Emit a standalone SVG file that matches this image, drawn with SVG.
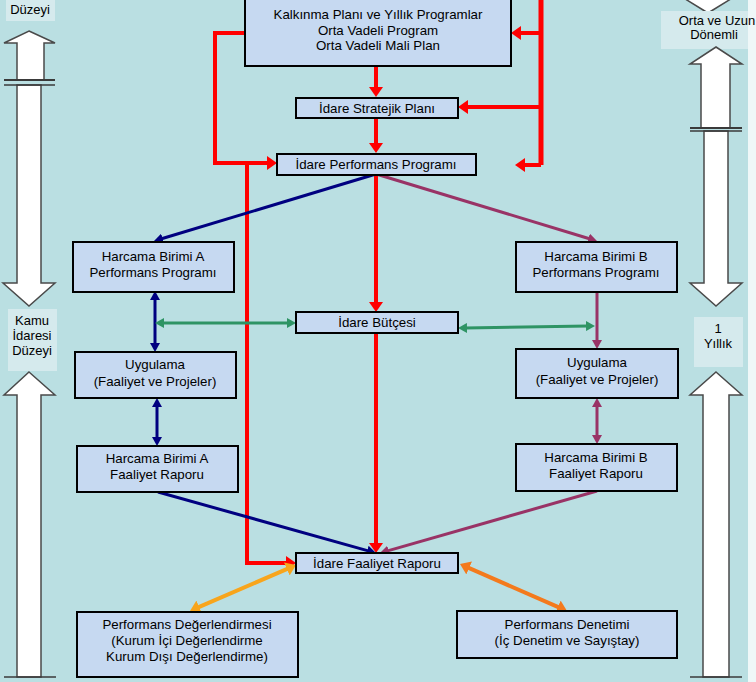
<svg xmlns="http://www.w3.org/2000/svg" width="756" height="682" viewBox="0 0 756 682">
<style>
.box{fill:#c6d9f1;stroke:#000;stroke-width:2}
.t{font-family:"Liberation Sans",Arial,sans-serif;font-size:13.3px;fill:#000;text-anchor:middle}
.s{font-size:13px}
.lbl{fill:#d5eaed}
.big{fill:#fff;stroke:#4a4a4a;stroke-width:1.5}
.base{stroke:#3a3a3a;stroke-width:2}
.red{fill:none;stroke:#ff0000;stroke-width:4}
.navy{fill:none;stroke:#000080;stroke-width:3}
.purp{fill:none;stroke:#993366;stroke-width:3}
.green{fill:none;stroke:#2e9464;stroke-width:3}
.or1{fill:none;stroke:#f8a51c;stroke-width:4}
.or2{fill:none;stroke:#f47a1c;stroke-width:4}
</style>
<defs>
<marker id="mr" markerUnits="userSpaceOnUse" markerWidth="12" markerHeight="14" refX="3" refY="7" orient="auto-start-reverse" viewBox="0 0 12 14"><path d="M0,0 L10,7 L0,14 z" fill="#ff0000"/></marker>
<marker id="mn" markerUnits="userSpaceOnUse" markerWidth="10" markerHeight="10" refX="2" refY="5" orient="auto-start-reverse" viewBox="0 0 10 10"><path d="M0,0 L9,5 L0,10 z" fill="#000080"/></marker>
<marker id="mp" markerUnits="userSpaceOnUse" markerWidth="10" markerHeight="10" refX="2" refY="5" orient="auto-start-reverse" viewBox="0 0 10 10"><path d="M0,0 L9,5 L0,10 z" fill="#993366"/></marker>
<marker id="mg" markerUnits="userSpaceOnUse" markerWidth="10" markerHeight="10" refX="2" refY="5" orient="auto-start-reverse" viewBox="0 0 10 10"><path d="M0,0 L9,5 L0,10 z" fill="#2e9464"/></marker>
<marker id="mo1" markerUnits="userSpaceOnUse" markerWidth="12" markerHeight="14" refX="3" refY="7" orient="auto-start-reverse" viewBox="0 0 12 14"><path d="M0,0 L10,7 L0,14 z" fill="#f8a51c"/></marker>
<marker id="mo2" markerUnits="userSpaceOnUse" markerWidth="12" markerHeight="14" refX="3" refY="7" orient="auto-start-reverse" viewBox="0 0 12 14"><path d="M0,0 L10,7 L0,14 z" fill="#f47a1c"/></marker>
</defs>
<rect x="0" y="0" width="756" height="682" fill="#eff7f8"/>
<rect x="0" y="0" width="748" height="682" fill="#badfe2"/>

<g id="side-left">
<rect class="lbl" x="6" y="0" width="49" height="21"/>
<text class="t s" x="30" y="14">Düzeyi</text>
<path class="big" d="M29,31 L55,43 H44 V80 H17 V43 H4 Z"/>
<line class="base" x1="4" y1="80" x2="55" y2="80"/>
<path class="big" d="M17,85 H41 V283 H55 L29,306 L3,283 H17 Z"/>
<line class="base" x1="4" y1="85" x2="55" y2="85" style="stroke-width:1.5"/>
<rect class="lbl" x="8" y="309" width="49" height="62"/>
<text class="t s" x="32" y="325">Kamu</text>
<text class="t s" x="32" y="340">İdaresi</text>
<text class="t s" x="32" y="355">Düzeyi</text>
<path class="big" d="M29,372 L55,395 H41 V677 H17 V395 H4 Z"/>
<line class="base" x1="4" y1="677" x2="56" y2="677" style="stroke-width:1.5"/>
</g>

<g id="side-right">
<path class="big" d="M682,-3 H734 L708,13 Z"/>
<rect class="lbl" x="661" y="11" width="87" height="38"/>
<text class="t s" x="717" y="25">Orta ve Uzun</text>
<text class="t s" x="714" y="39">Dönemli</text>
<path class="big" d="M716,47 L742,64 H730 V128 H701 V64 H690 Z"/>
<line class="base" x1="690" y1="128" x2="742" y2="128"/>
<path class="big" d="M704,131 H728 V283 H742 L716,306 L690,283 H704 Z"/>
<line class="base" x1="690" y1="131" x2="742" y2="131" style="stroke-width:1.5"/>
<rect class="lbl" x="694" y="317" width="49" height="50"/>
<text class="t s" x="718" y="333">1</text>
<text class="t s" x="718" y="348">Yıllık</text>
<path class="big" d="M716,372 L742,395 H729 V677 H703 V395 H690 Z"/>
<line class="base" x1="690" y1="677" x2="742" y2="677" style="stroke-width:1.5"/>
</g>

<g id="connectors">
<path class="red" d="M376,66 V90" marker-end="url(#mr)"/>
<path class="red" d="M376,117 V146" marker-end="url(#mr)"/>
<path class="red" d="M245,33 H215 V163 H270" marker-end="url(#mr)"/>
<path class="red" d="M247,163 V563 H289" marker-end="url(#mr)"/>
<path class="red" d="M541,0 V165" style="stroke-width:5"/>
<path class="red" d="M541,33 H518" marker-end="url(#mr)"/>
<path class="red" d="M541,107 H465" marker-end="url(#mr)"/>
<path class="red" d="M541,165 H522" marker-end="url(#mr)"/>
<path class="red" d="M376,174 V305" marker-end="url(#mr)"/>
<path class="red" d="M376,333 V546" marker-end="url(#mr)"/>
<path class="navy" d="M376,174 L160.7,239" marker-end="url(#mn)"/>
<path class="navy" d="M155,298 V345" marker-start="url(#mn)" marker-end="url(#mn)"/>
<path class="navy" d="M157,405 V439" marker-start="url(#mn)" marker-end="url(#mn)"/>
<path class="navy" d="M158,492 L369.2,551.1" marker-end="url(#mn)"/>
<path class="purp" d="M376,174 L590.3,239" marker-end="url(#mp)"/>
<path class="purp" d="M597,292 V342" marker-end="url(#mp)"/>
<path class="purp" d="M597,405 V437" marker-start="url(#mp)" marker-end="url(#mp)"/>
<path class="purp" d="M597,491 L386.7,551.1" marker-end="url(#mp)"/>
<path class="green" d="M162,323 H289" marker-start="url(#mg)" marker-end="url(#mg)"/>
<path class="green" d="M465,328 L588,326" marker-start="url(#mg)" marker-end="url(#mg)"/>
<path class="or1" d="M196.4,608.2 L289.6,567.8" marker-start="url(#mo1)" marker-end="url(#mo1)"/>
<path class="or2" d="M466.4,566.8 L560.6,608.2" marker-start="url(#mo2)" marker-end="url(#mo2)"/>
</g>

<g id="n-kalkinma">
<rect class="box" x="245" y="-2" width="266" height="68"/>
<text class="t" x="378" y="19">Kalkınma Planı ve Yıllık Programlar</text>
<text class="t" x="378" y="35">Orta Vadeli Program</text>
<text class="t" x="378" y="50">Orta Vadeli Mali Plan</text>
</g>
<g id="n-stratejik">
<rect class="box" x="296" y="98" width="162" height="20"/>
<text class="t" x="377" y="112.5">İdare Stratejik Planı</text>
</g>
<g id="n-performans">
<rect class="box" x="277" y="154" width="199" height="21"/>
<text class="t" x="376" y="169">İdare Performans Programı</text>
</g>
<g id="n-hb-a-pp">
<rect class="box" x="73" y="242" width="161" height="50"/>
<text class="t" x="153" y="261">Harcama Birimi A</text>
<text class="t" x="153" y="277">Performans Programı</text>
</g>
<g id="n-uyg-a">
<rect class="box" x="75" y="352" width="161" height="46"/>
<text class="t" x="155" y="369">Uygulama</text>
<text class="t" x="155" y="386">(Faaliyet ve Projeler)</text>
</g>
<g id="n-hb-a-fr">
<rect class="box" x="77" y="446" width="161" height="46"/>
<text class="t" x="157" y="463">Harcama Birimi A</text>
<text class="t" x="157" y="479">Faaliyet Raporu</text>
</g>
<g id="n-butce">
<rect class="box" x="296" y="312" width="162" height="21"/>
<text class="t" x="377" y="327">İdare Bütçesi</text>
</g>
<g id="n-hb-b-pp">
<rect class="box" x="516" y="242" width="161" height="50"/>
<text class="t" x="596" y="261">Harcama Birimi B</text>
<text class="t" x="596" y="277">Performans Programı</text>
</g>
<g id="n-uyg-b">
<rect class="box" x="516" y="349" width="162" height="49"/>
<text class="t" x="597" y="367">Uygulama</text>
<text class="t" x="597" y="384">(Faaliyet ve Projeler)</text>
</g>
<g id="n-hb-b-fr">
<rect class="box" x="516" y="444" width="161" height="47"/>
<text class="t" x="596" y="462">Harcama Birimi B</text>
<text class="t" x="596" y="478">Faaliyet Raporu</text>
</g>
<g id="n-faaliyet">
<rect class="box" x="296" y="553" width="162" height="20"/>
<text class="t" x="377" y="567.5">İdare Faaliyet Raporu</text>
</g>
<g id="n-degerlendirme">
<rect class="box" x="77" y="612" width="221" height="65"/>
<text class="t" x="187" y="629">Performans Değerlendirmesi</text>
<text class="t" x="187" y="645">(Kurum İçi Değerlendirme</text>
<text class="t" x="187" y="661">Kurum Dışı Değerlendirme)</text>
</g>
<g id="n-denetim">
<rect class="box" x="457" y="611" width="220" height="47"/>
<text class="t" x="567" y="629">Performans Denetimi</text>
<text class="t" x="567" y="645">(İç Denetim ve Sayıştay)</text>
</g>
</svg>
